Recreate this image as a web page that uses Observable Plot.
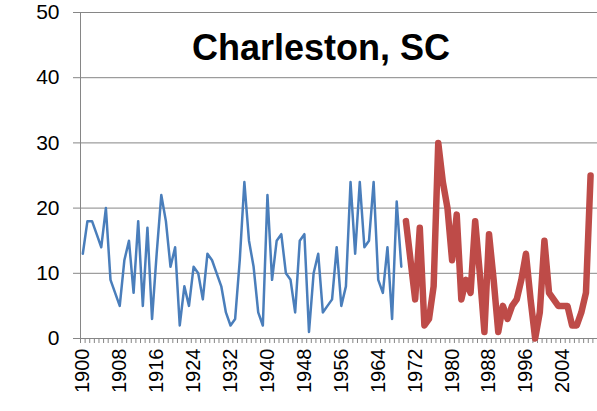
<!DOCTYPE html>
<html><head><meta charset="utf-8">
<script src="https://cdn.jsdelivr.net/npm/d3@7"></script>
<script src="https://cdn.jsdelivr.net/npm/@observablehq/plot@0.6"></script>
<style>html,body{margin:0;padding:0;background:#fff;}</style>
</head><body><div id="chart"></div>
<script>
const title = "Charleston, SC";
const blueStart = 1900;
const blueValues = [13,18,18,16,14,20,9,7,5,12,15,7,18,5,17,3,13,22,18,11,
  14,2,8,5,11,10,6,13,12,10,8,4,2,3,12,24,15,11,4,2,
  22,9,15,16,10,9,4,15,16,1,10,13,4,5,6,14,5,8,24,13,
  24,14,15,24,9,7,14,3,21,11];
const redStart = 1970;
const redValues = [18,12,6,17,2,3,8,30,24,20,12,19,6,9,7,18,10,1,16,9,
  1,5,3,5,6,9,13,6,0,4,15,7,6,5,5,5,2,2,4,7,25];
const yTicks = [0,10,20,30,40,50];
const xTickLabels = [1900,1908,1916,1924,1932,1940,1948,1956,1964,1972,1980,1988,1996,2004];
const categoryFirst = 1900, categoryLast = 2011;

const blue = blueValues.map((v, i) => ({year: blueStart + i, value: v}));
const red = redValues.map((v, i) => ({year: redStart + i, value: v}));
const boundaries = d3.range(categoryFirst - 0.5, categoryLast + 1, 1);

const chart = Plot.plot({
  width: 597, height: 411,
  marginLeft: 80, marginRight: 0, marginTop: 12, marginBottom: 73,
  style: {fontFamily: "'Liberation Sans', Arial, sans-serif", background: "#fff", color: "#000"},
  x: {domain: [categoryFirst - 0.5, categoryLast + 0.5]},
  y: {domain: [0, 50]},
  marks: [
    Plot.gridY(yTicks, {stroke: "#868686", strokeOpacity: 1, strokeWidth: 1}),
    Plot.axisY(yTicks, {tickSize: 7, tickPadding: 14, fontSize: 21, stroke: "#868686", fill: "#000", label: null}),
    Plot.ruleX([categoryFirst - 0.5], {stroke: "#868686", strokeWidth: 1}),
    Plot.axisX(boundaries, {tickSize: 5, tickFormat: () => "", stroke: "#868686", label: null}),
    Plot.axisX(xTickLabels, {tickSize: 0, tickRotate: -90, tickPadding: 10, fontSize: 20, fill: "#000", tickFormat: d => String(d), label: null}),
    Plot.line(blue, {x: "year", y: "value", stroke: "#4A7EBB", strokeWidth: 2.5}),
    Plot.line(red, {x: "year", y: "value", stroke: "#BE4B48", strokeWidth: 6.5}),
    Plot.text([title], {frameAnchor: "top", dx: -18, dy: 22, fontSize: 36, fontWeight: "bold", fill: "#000"})
  ]
});
document.getElementById("chart").appendChild(chart);
</script>
</body></html>
